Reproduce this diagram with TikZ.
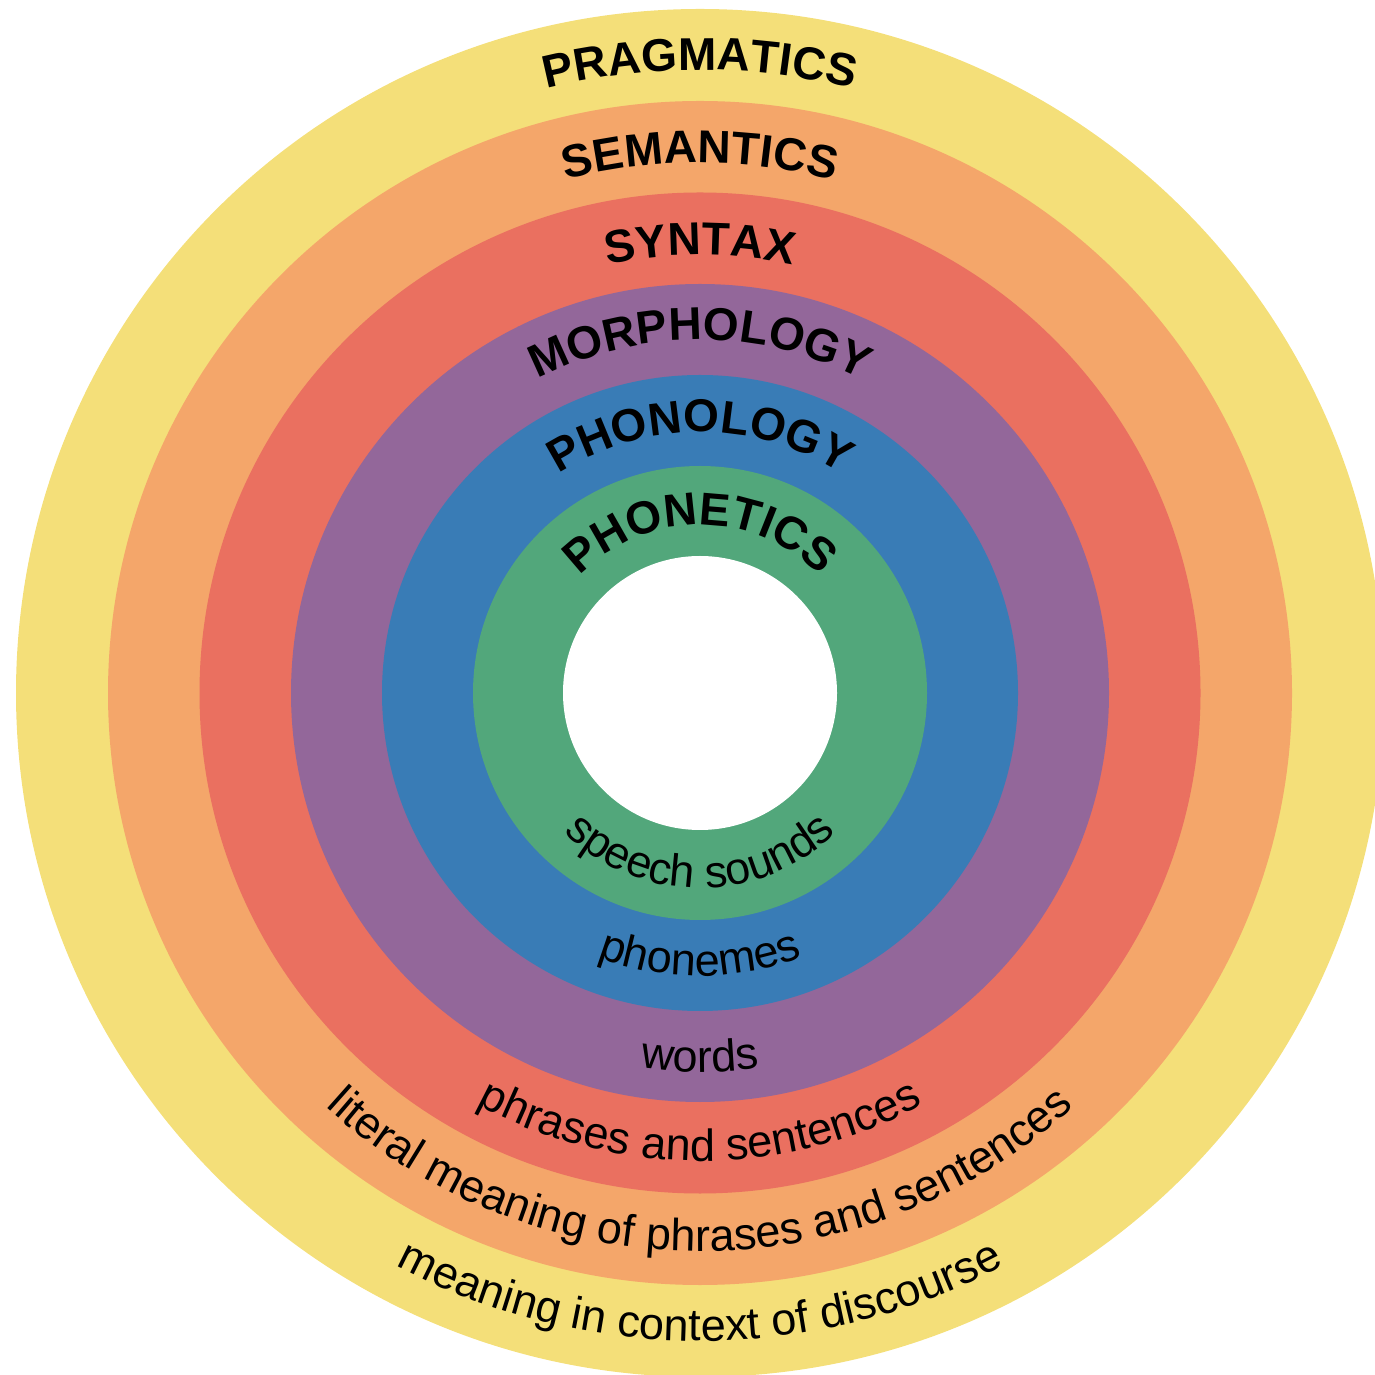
\documentclass[tikz,border=0pt]{standalone}
\usepackage{fontspec}
\setmainfont{Liberation Sans}
\usetikzlibrary{decorations.text}
\newcommand\ttlfont{\fontsize{46}{52}\selectfont\bfseries}
\newcommand\lblfont{\fontsize{45}{52}\selectfont}
\definecolor{cyellow}{HTML}{F4DF79}
\definecolor{corange}{HTML}{F4A66A}
\definecolor{cred}{HTML}{EA7060}
\definecolor{cpurple}{HTML}{93679A}
\definecolor{cblue}{HTML}{397CB6}
\definecolor{cgreen}{HTML}{52A77B}
\tikzset{
  toplabel/.style 2 args={decorate,decoration={text along path,text={|\ttlfont|#2},text align=center}},
  botlabel/.style 2 args={decorate,decoration={text along path,text={|\lblfont|#2},text align=center}},
}
\begin{document}
\begin{tikzpicture}[x=1pt,y=1pt]
\useasboundingbox (0,0) rectangle (1375,1374);
\clip (0,0) rectangle (1375,1374);
\coordinate (c) at (700,681);
\fill[cyellow] (c) circle[radius=684];
\fill[corange] (c) circle[radius=592];
\fill[cred] (c) circle[radius=500.5];
\fill[cpurple] (c) circle[radius=409];
\fill[cblue] (c) circle[radius=318];
\fill[cgreen] (c) circle[radius=227];
\fill[white] (c) circle[radius=137];
% top titles
\path[toplabel={}{PRAGMATICS}] ([shift={(180:623)}]c) arc[start angle=180,end angle=0,radius=623];
\path[toplabel={}{SEMANTICS}] ([shift={(180:530)}]c) arc[start angle=180,end angle=0,radius=530];
\path[toplabel={}{SYNTAX}] ([shift={(180:438)}]c) arc[start angle=180,end angle=0,radius=438];
\path[toplabel={}{MORPHOLOGY}] ([shift={(180:353)}]c) arc[start angle=180,end angle=0,radius=353];
\path[toplabel={}{PHONOLOGY}] ([shift={(180:261)}]c) arc[start angle=180,end angle=0,radius=261];
\path[toplabel={}{PHONETICS}] ([shift={(180:168)}]c) arc[start angle=180,end angle=0,radius=168];
% bottom descriptions
\path[botlabel={}{speech sounds}] ([shift={(180:195)}]c) arc[start angle=180,end angle=360,radius=195];
\path[botlabel={}{phonemes}] ([shift={(180:283)}]c) arc[start angle=180,end angle=360,radius=283];
\path[botlabel={}{words}] ([shift={(180:379)}]c) arc[start angle=180,end angle=360,radius=379];
\path[botlabel={}{phrases and sentences}] ([shift={(180:468)}]c) arc[start angle=180,end angle=360,radius=468];
\path[botlabel={}{literal meaning of phrases and sentences}] ([shift={(180:558)}]c) arc[start angle=180,end angle=360,radius=558];
\path[botlabel={}{meaning in context of discourse}] ([shift={(180:648)}]c) arc[start angle=180,end angle=360,radius=648];
\end{tikzpicture}
\end{document}
